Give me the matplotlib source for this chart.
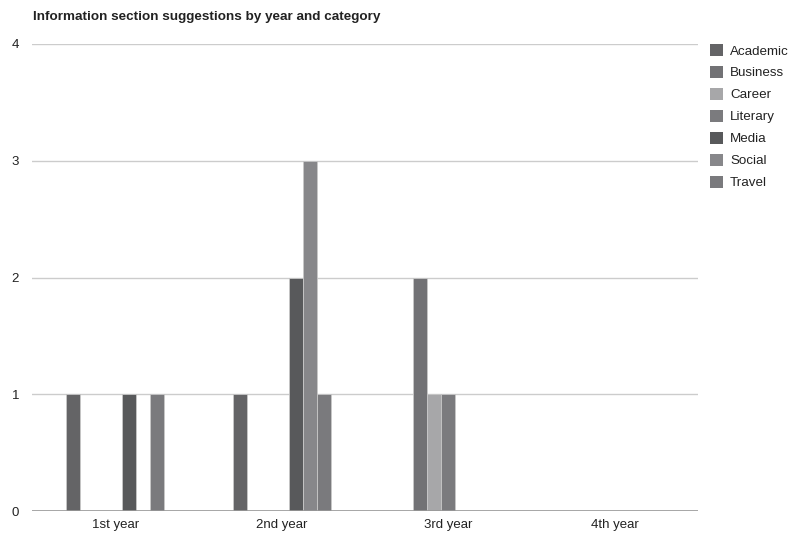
import matplotlib
matplotlib.use("Agg")
import matplotlib.pyplot as plt
import numpy as np

plt.rcParams['font.family'] = ['Liberation Sans', 'DejaVu Sans']

years = ["1st year", "2nd year", "3rd year", "4th year"]
categories = ["Academic", "Business", "Career", "Literary", "Media", "Social", "Travel"]
academic = [1, 1, 0, 0]
business = [0, 0, 2, 0]
career = [0, 0, 1, 0]
literary = [0, 0, 1, 0]
media = [1, 2, 0, 0]
social = [0, 3, 0, 0]
travel = [1, 1, 0, 0]
series = [academic, business, career, literary, media, social, travel]
colors = ["#646466", "#727275", "#a7a7a9", "#7b7b7e", "#58595b", "#87878a", "#7a7a7d"]
yticks = [0, 1, 2, 3, 4]

fig = plt.figure(figsize=(7.93, 5.38), dpi=100)
ax = fig.add_axes([32 / 793, 1 - 511 / 538, 666 / 793, 467 / 538])

x = np.arange(len(years))
pitch = 14 / 166.5
n = len(categories)
handles = []
for i, (name, vals, col) in enumerate(zip(categories, series, colors)):
    offs = (i - (n - 1) / 2) * pitch
    h = ax.bar(x + offs, vals, width=pitch, color=col, edgecolor="#c8c8c8",
               linewidth=0.6, label=name, zorder=3)
    handles.append(h)

ax.set_xlim(-0.5, len(years) - 0.5)
ax.set_ylim(0, 4)
ax.set_yticks(yticks)
ax.set_yticklabels([str(v) for v in yticks])
ax.set_xticks(x)
ax.set_xticklabels(years)
ax.grid(axis="y", color="#cccccc", linewidth=1, zorder=0)
ax.axhline(0, color="#999999", linewidth=1.2, zorder=4)
for s in ax.spines.values():
    s.set_visible(False)
ax.tick_params(axis="both", length=0, labelsize=9.5, colors="#222222")
ax.tick_params(axis="x", pad=6)
for lbl in ax.get_yticklabels():
    lbl.set_horizontalalignment("center")
ax.yaxis.set_tick_params(pad=12)

fig.text(33 / 793, 1 - 17 / 538, "Information section suggestions by year and category",
         fontsize=9.7, fontweight="bold", color="#222222", va="center", ha="left")

leg = fig.legend(handles=handles, labels=categories, loc="upper left",
                 bbox_to_anchor=(710 / 793, 1 - 44 / 538), frameon=False,
                 fontsize=9.6, handlelength=1.0, handleheight=1.0,
                 handletextpad=0.5, labelspacing=0.63, borderaxespad=0,
                 borderpad=0)
for t in leg.get_texts():
    t.set_color("#222222")
for p in leg.legend_handles:
    p.set_edgecolor("none")

fig.savefig("out.png", dpi=100)
